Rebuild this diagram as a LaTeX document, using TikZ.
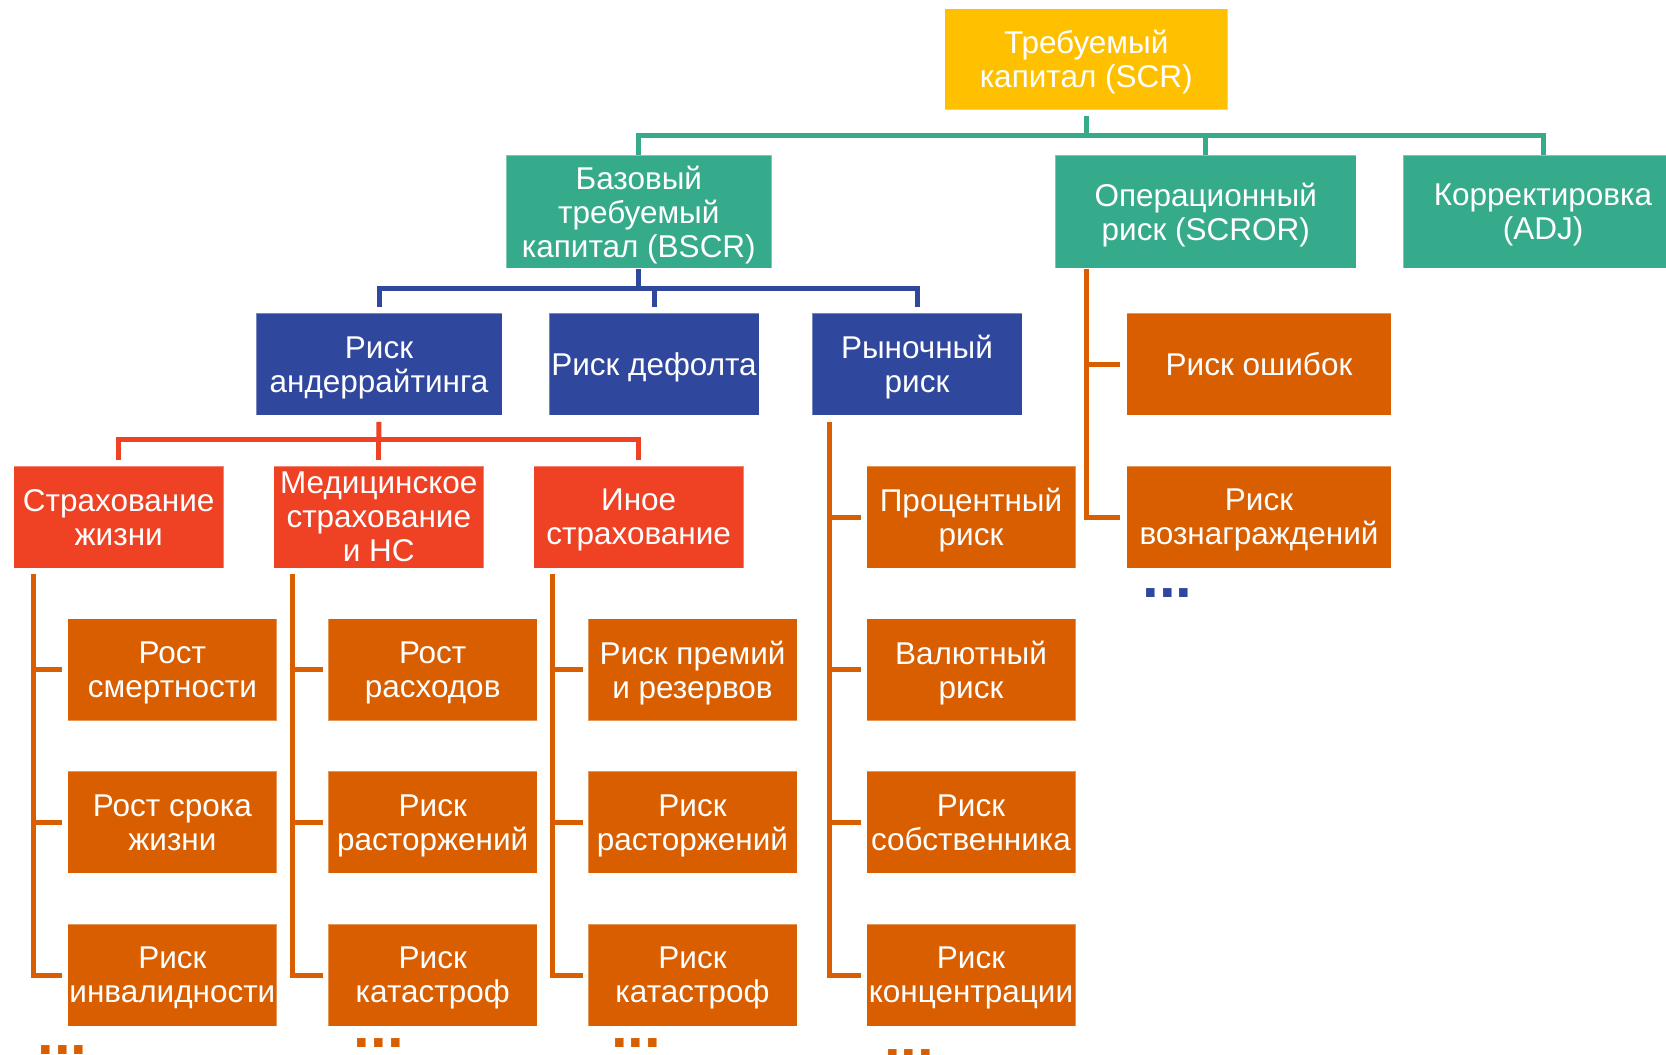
\documentclass[tikz,border=0pt]{standalone}
\usepackage{fontspec}
\newfontfamily\arialf{Liberation Sans}
\definecolor{cyel}{RGB}{255,192,0}
\definecolor{cgrn}{RGB}{54,171,139}
\definecolor{cblu}{RGB}{48,71,158}
\definecolor{cred}{RGB}{239,66,37}
\definecolor{corg}{RGB}{216,94,0}
\newcommand\bxfont{\arialf\fontsize{31.5}{34}\selectfont}
\newcommand\dtfont{\arialf\bfseries\fontsize{60}{60}\selectfont}
\begin{document}
\begin{tikzpicture}[x=1pt,y=-1pt,
  box/.style={rectangle,inner sep=0pt,align=center,text=white,font=\bxfont,
              text depth=0pt,draw=white,draw opacity=0.35,line width=1pt},
  boxY/.style={box,fill=cyel},
  boxG/.style={box,fill=cgrn,minimum height=113pt},
  boxB/.style={box,fill=cblu,minimum height=102pt},
  boxR/.style={box,fill=cred,minimum height=102pt,minimum width=210pt},
  boxO/.style={box,fill=corg,minimum height=102pt,minimum width=209pt},
  link/.style={line width=5pt,line join=miter},
  linkG/.style={link,draw=cgrn},
  linkB/.style={link,draw=cblu},
  linkR/.style={link,draw=cred},
  linkO/.style={link,draw=corg},
  dotsO/.style={anchor=base,inner sep=0pt,text=corg,font=\dtfont,text height=9pt,text depth=0pt},
  dotsB/.style={anchor=base,inner sep=0pt,text=cblu,font=\dtfont,text height=9pt,text depth=0pt}
]
\useasboundingbox (0,0) rectangle (1666,1055);
\clip (0,0) rectangle (1666,1055);
\fill[white] (0,0) rectangle (1666,1055);

% level 0
\node[boxY,minimum width=283pt,minimum height=101pt] (scr) at (1086.2,59) {Требуемый\\капитал (SCR)};

% level 1
\node[boxG,minimum width=265.5pt] (bscr) at (638.8,211.8) {Базовый\\требуемый\\капитал (BSCR)};
\node[boxG,minimum width=301.4pt] (scror) at (1205.7,211.8) {Операционный\\риск (SCROR)};
\node[boxG,minimum width=280pt] (adj) at (1543,211.8) {Корректировка\\(ADJ)};

% level 2
\node[boxB,minimum width=246pt] (uw) at (379,364.3) {Риск\\андеррайтинга};
\node[boxB,minimum width=210pt] (def) at (654,364.3) {Риск дефолта};
\node[boxB,minimum width=210pt] (mkt) at (917,364.3) {Рыночный\\риск};
\node[boxO,minimum width=264.6pt] (err) at (1259,364.3) {Риск ошибок};
\node[boxO,minimum width=264.6pt] (rew) at (1259,517) {Риск\\вознаграждений};

% level 3
\node[boxR] (life) at (118.7,517) {Страхование\\жизни};
\node[boxR] (med) at (378.8,517) {Медицинское\\страхование\\и НС};
\node[boxR] (oth) at (638.7,517) {Иное\\страхование};
\node[boxO] (m1) at (971,517) {Процентный\\риск};

% level 4
\node[boxO] (l1) at (172.4,669.7) {Рост\\смертности};
\node[boxO] (l2) at (172.4,822.3) {Рост срока\\жизни};
\node[boxO] (l3) at (172.4,975) {Риск\\инвалидности};
\node[boxO] (h1) at (432.7,669.7) {Рост\\расходов};
\node[boxO] (h2) at (432.7,822.3) {Риск\\расторжений};
\node[boxO] (h3) at (432.7,975) {Риск\\катастроф};
\node[boxO] (o1) at (692.5,669.7) {Риск премий\\и резервов};
\node[boxO] (o2) at (692.5,822.3) {Риск\\расторжений};
\node[boxO] (o3) at (692.5,975) {Риск\\катастроф};
\node[boxO] (m2) at (971,669.7) {Валютный\\риск};
\node[boxO] (m3) at (971,822.3) {Риск\\собственника};
\node[boxO] (m4) at (971,975) {Риск\\концентрации};

% dots
\node[dotsO] (dl) at (62.5,1054) {...};
\node[dotsO] (dh) at (379,1047) {...};
\node[dotsO] (do) at (636,1047) {...};
\node[dotsO] (dm) at (909,1058) {...};
\node[dotsB] (ds) at (1167.5,597) {...};

% green connectors
\coordinate (gbus) at (1086.2,135.5);
\draw[linkG] ([yshift=-6pt]scr.south) -- (gbus);
\draw[linkG] (bscr.north) |- (gbus);
\draw[linkG] (adj.north) |- (gbus);
\draw[linkG] (scror.north) -- (scror.north |- gbus);

% blue connectors
\coordinate (bbus) at (638.8,288);
\draw[linkB] (bscr.south) -- (bbus);
\draw[linkB] ([yshift=6pt]uw.north) |- (bbus);
\draw[linkB] ([yshift=6pt]mkt.north) |- (bbus);
\draw[linkB] ([yshift=6pt]def.north) -- (def.north |- bbus);

% red connectors
\coordinate (rbus) at (378.8,439.7);
\draw[linkR] ([yshift=-6pt]uw.south) -- (rbus);
\draw[linkR] ([yshift=6pt]life.north) |- (rbus);
\draw[linkR] ([yshift=6pt]oth.north) |- (rbus);
\draw[linkR] ([yshift=6pt]med.north) -- (med.north |- rbus);

% orange trees
\coordinate (lt) at ([xshift=20pt,yshift=-5pt]life.south west);
\draw[linkO] (lt) |- ([xshift=-5pt]l3.west);
\draw[linkO] (lt |- l1.west) -- ([xshift=-5pt]l1.west);
\draw[linkO] (lt |- l2.west) -- ([xshift=-5pt]l2.west);

\coordinate (ht) at ([xshift=19pt,yshift=-5pt]med.south west);
\draw[linkO] (ht) |- ([xshift=-5pt]h3.west);
\draw[linkO] (ht |- h1.west) -- ([xshift=-5pt]h1.west);
\draw[linkO] (ht |- h2.west) -- ([xshift=-5pt]h2.west);

\coordinate (ot) at ([xshift=19pt,yshift=-5pt]oth.south west);
\draw[linkO] (ot) |- ([xshift=-5pt]o3.west);
\draw[linkO] (ot |- o1.west) -- ([xshift=-5pt]o1.west);
\draw[linkO] (ot |- o2.west) -- ([xshift=-5pt]o2.west);

\coordinate (mt) at ([xshift=18pt,yshift=-6pt]mkt.south west);
\draw[linkO] (mt) |- ([xshift=-5pt]m4.west);
\draw[linkO] (mt |- m1.west) -- ([xshift=-5pt]m1.west);
\draw[linkO] (mt |- m2.west) -- ([xshift=-5pt]m2.west);
\draw[linkO] (mt |- m3.west) -- ([xshift=-5pt]m3.west);

\coordinate (st) at ([xshift=32pt]scror.south west);
\draw[linkO] (st) |- ([xshift=-6pt]rew.west);
\draw[linkO] (st |- err.west) -- ([xshift=-6pt]err.west);
\end{tikzpicture}
\end{document}
